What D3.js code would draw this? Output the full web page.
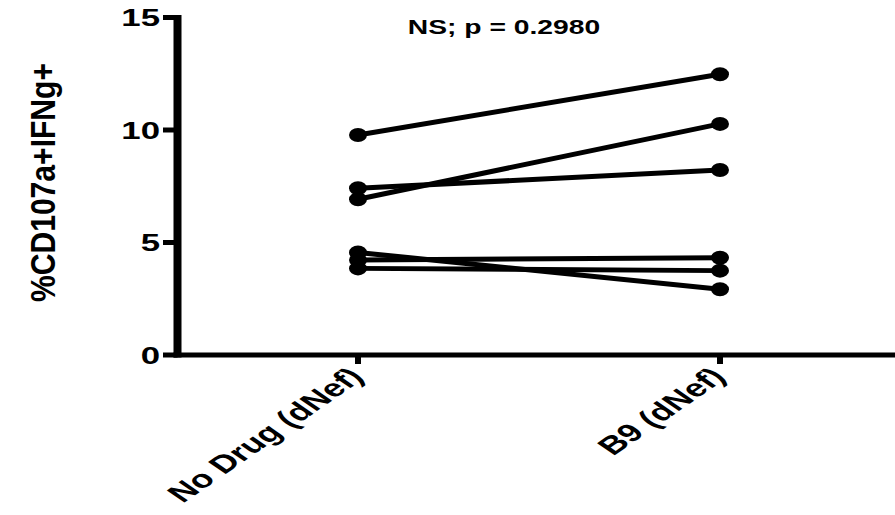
<!DOCTYPE html>
<html>
<head>
<meta charset="utf-8">
<script src="https://cdn.jsdelivr.net/npm/d3@7"></script>
<style>
  html, body { margin: 0; padding: 0; background: #fff; }
  svg { display: block; }
  text { font-family: "Liberation Sans", Arial, sans-serif; font-weight: bold; fill: #000; }
</style>
</head>
<body>
<svg id="chart" width="895" height="515"></svg>
<script>
// ---- data ----
const categories = ["No Drug (dNef)", "B9 (dNef)"];
const noDrug = [9.78, 7.41, 6.92, 4.56, 4.22, 3.85];
const b9     = [12.48, 8.22, 10.27, 2.92, 4.32, 3.75];
const yTicks = [0, 5, 10, 15];
const title = "NS; p = 0.2980";
const yLabel = "%CD107a+IFNg+";

// ---- layout ----
const SX = 1.45; // horizontal stretch of the original figure
const svg = d3.select("#chart");
const x = d3.scalePoint().domain(categories).range([358, 720]);
const y = d3.scaleLinear().domain([0, 15]).range([355, 17.5]);
const axisX = 177.5;

const pairs = noDrug.map((v, i) => [v, b9[i]]);

// connecting lines
svg.append("g").selectAll("line").data(pairs).join("line")
  .attr("x1", x(categories[0])).attr("x2", x(categories[1]))
  .attr("y1", d => y(d[0])).attr("y2", d => y(d[1]))
  .attr("stroke", "#000").attr("stroke-width", 5);

// markers
const pts = [];
pairs.forEach(p => { pts.push([categories[0], p[0]]); pts.push([categories[1], p[1]]); });
svg.append("g").selectAll("ellipse").data(pts).join("ellipse")
  .attr("cx", d => x(d[0])).attr("cy", d => y(d[1]))
  .attr("rx", 9).attr("ry", 7).attr("fill", "#000");

// y axis
const gy = svg.append("g");
gy.append("line").attr("x1", axisX).attr("x2", axisX)
  .attr("y1", y(15) - 2.5).attr("y2", y(0) + 2.5)
  .attr("stroke", "#000").attr("stroke-width", 8);
gy.selectAll("line.tick").data(yTicks).join("line").attr("class", "tick")
  .attr("x1", 163).attr("x2", axisX)
  .attr("y1", d => y(d)).attr("y2", d => y(d))
  .attr("stroke", "#000").attr("stroke-width", 5);
gy.selectAll("text").data(yTicks).join("text")
  .attr("transform", d => `translate(160,${y(d)}) scale(${SX},1)`)
  .attr("text-anchor", "end").attr("dy", "0.36em")
  .style("font-size", "24px")
  .text(d => d);

// x axis
const gx = svg.append("g");
gx.append("line").attr("x1", axisX - 4).attr("x2", 895)
  .attr("y1", y(0)).attr("y2", y(0))
  .attr("stroke", "#000").attr("stroke-width", 5);
gx.selectAll("line.tick").data(categories).join("line").attr("class", "tick")
  .attr("x1", d => x(d)).attr("x2", d => x(d))
  .attr("y1", y(0)).attr("y2", y(0) + 9)
  .attr("stroke", "#000").attr("stroke-width", 6);
gx.selectAll("text").data(categories).join("text")
  .attr("transform", d => `translate(${x(d) + 7},${y(0) + 23}) scale(${SX},1) rotate(-45)`)
  .attr("text-anchor", "end")
  .style("font-size", "25px")
  .text(d => d);

// title
svg.append("text")
  .attr("transform", `translate(504,34) scale(${SX},1)`)
  .attr("text-anchor", "middle")
  .style("font-size", "19.5px")
  .text(title);

// y label
svg.append("text")
  .attr("transform", `translate(55,182.5) scale(${SX},1) rotate(-90)`)
  .attr("text-anchor", "middle")
  .attr("textLength", 239).attr("lengthAdjust", "spacingAndGlyphs")
  .style("font-size", "24px")
  .text(yLabel);
</script>
</body>
</html>
